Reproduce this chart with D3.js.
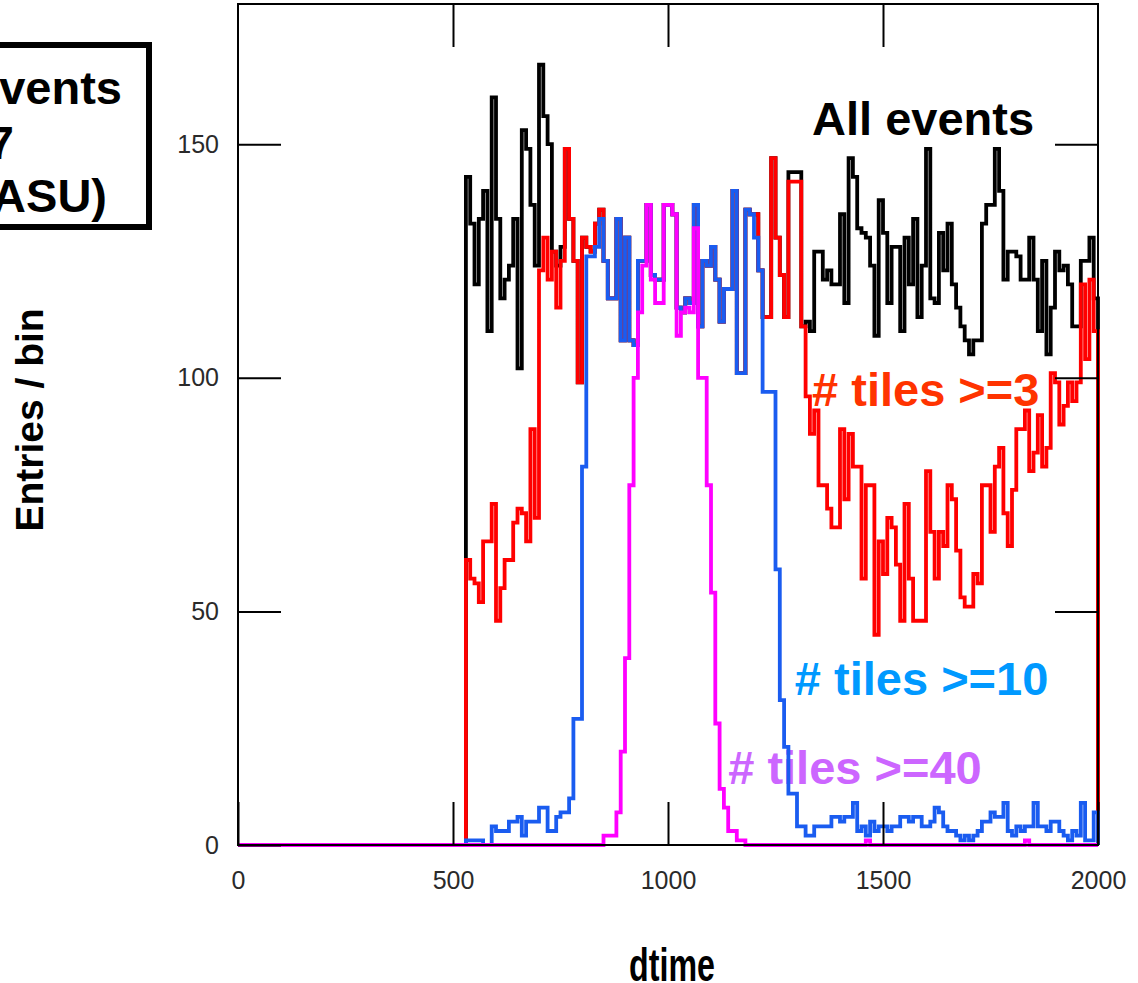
<!DOCTYPE html>
<html>
<head>
<meta charset="utf-8">
<script src="https://cdn.jsdelivr.net/npm/d3@7"></script>
<style>
  html, body { margin: 0; padding: 0; background: #fff; }
  svg { display: block; }
</style>
</head>
<body>
<svg id="chart" width="1138" height="983"></svg>
<script>
// dtime histograms: 200 bins of width 10 between 0 and 2000
const binLow = 0;
const binWidth = 10;

const allEvents = [
  0,0,0,0,0,0,0,0,0,0,  0,0,0,0,0,0,0,0,0,0,
  0,0,0,0,0,0,0,0,0,0,  0,0,0,0,0,0,0,0,0,0,
  0,0,0,0,0,0,0,0,0,0,
  0,0,0,143,133,120,134,140,110,160,
  134,117,121,124,134,102,153,149,137,124,
  167,156,150,127,124,128,149,134,125,99,
  130,128,127,133,136,125,117,117,134,108,
  130,108,107,125,125,137,122,121,121,137,
  137,135,115,114,117,116,137,111,125,124,
  128,121,112,119,119,140,101,101,136,135,
  135,123,113,113,147,130,122,113,144,144,
  144,111,112,110,127,127,121,123,120,120,
  135,116,147,143,132,131,130,124,109,138,
  131,116,128,128,110,130,120,134,113,124,
  149,117,116,131,123,133,120,115,111,108,
  105,108,108,133,137,137,149,140,121,127,
  127,126,121,121,130,121,110,125,105,115,
  127,123,124,120,111,111,125,125,130,117
];

const tilesGe3 = [
  0,0,0,0,0,0,0,0,0,0,  0,0,0,0,0,0,0,0,0,0,
  0,0,0,0,0,0,0,0,0,0,  0,0,0,0,0,0,0,0,0,0,
  0,0,0,0,0,0,0,0,0,0,
  0,0,0,61,57,56,52,65,65,73,
  48,55,61,61,69,72,71,65,89,70,
  123,130,121,127,115,125,149,134,125,99,
  130,128,127,133,136,125,117,117,134,108,
  130,108,107,125,125,137,122,121,121,137,
  137,135,115,114,117,116,137,111,125,124,
  128,121,112,119,119,140,101,101,136,135,
  135,123,113,113,147,130,122,113,142,142,
  142,111,96,88,93,77,77,72,68,68,
  89,74,88,81,81,57,77,77,45,65,
  58,70,68,60,48,73,57,48,48,48,
  80,67,57,67,64,77,74,63,53,51,
  51,58,56,77,77,67,81,85,71,64,
  76,89,89,93,80,84,92,81,85,101,
  99,90,94,99,95,99,120,104,121,110
];

const tilesGe10 = [
  0,0,0,0,0,0,0,0,0,0,  0,0,0,0,0,0,0,0,0,0,
  0,0,0,0,0,0,0,0,0,0,  0,0,0,0,0,0,0,0,0,0,
  0,0,0,0,0,0,0,0,0,0,
  0,0,0,1,1,1,1,0,0,4,
  3,3,3,5,5,6,2,5,5,5,
  8,8,3,3,6,7,7,10,27,27,
  81,126,126,128,134,125,117,117,134,108,
  130,108,107,125,125,137,122,121,121,137,
  137,135,115,114,117,116,137,111,125,124,
  128,121,112,119,119,140,101,101,136,135,
  130,123,97,97,97,59,31,21,11,11,
  4,4,2,2,4,4,4,4,6,6,
  5,6,6,9,3,4,2,5,3,4,
  4,3,4,4,6,6,5,6,6,4,
  4,5,8,7,4,3,3,2,1,2,
  1,2,3,5,5,7,6,6,9,3,
  2,4,3,4,4,9,4,4,3,5,
  5,3,2,1,3,2,9,1,1,7
];

const tilesGe40 = [
  0,0,0,0,0,0,0,0,0,0,  0,0,0,0,0,0,0,0,0,0,
  0,0,0,0,0,0,0,0,0,0,  0,0,0,0,0,0,0,0,0,0,
  0,0,0,0,0,0,0,0,0,0,  0,0,0,0,0,0,0,0,0,0,
  0,0,0,0,0,0,0,0,0,0,  0,0,0,0,0,0,0,0,0,0,
  0,0,0,0,0,2,2,2,7,20,
  40,77,100,114,124,137,121,116,116,137,
  137,135,109,114,115,114,132,100,100,77,
  54,26,12,8,3,3,1,1,0,0,
  0,0,0,0,0,0,0,0,0,0,  0,0,0,0,0,0,0,0,0,0,
  0,0,0,0,0,0,1,0,0,0,
  0,0,0,0,0,0,0,0,0,0,  0,0,0,0,0,0,0,0,0,0,
  0,0,0,0,0,0,0,0,0,0,
  0,0,0,1,0,0,0,0,0,0,
  0,0,0,0,0,0,0,0,0,0
];

const xTickValues = [0, 500, 1000, 1500, 2000];
const yTickValues = [0, 50, 100, 150];
const xDomain = [0, 2000];
const yDomain = [0, 180];

const xTitle = "dtime";
const yTitle = "Entries / bin";
const infoLines = ["events", "7", "(ASU)"];

const series = [
  { label: "All events",    values: allEvents,  line: "#000000", text: "#000000" },
  { label: "# tiles >=3",   values: tilesGe3,   line: "#ff0000", text: "#ff3300" },
  { label: "# tiles >=10",  values: tilesGe10,  line: "#1a5cf0", text: "#0099ff" },
  { label: "# tiles >=40",  values: tilesGe40,  line: "#ff00ff", text: "#cc66ff" }
];
// label anchor points in data coordinates (x = dtime, y = entries)
const labelSpots = [
  { x: 1335, y: 152 },
  { x: 1335, y: 94 },
  { x: 1295, y: 32 },
  { x: 1140, y: 13 }
];

const svg = d3.select("#chart");
const frame = { left: 238, right: 1098, top: 4, bottom: 845 };

const x = d3.scaleLinear().domain(xDomain).range([frame.left, frame.right]);
const y = d3.scaleLinear().domain(yDomain).range([frame.bottom, frame.top]);

const fontFamily = "'Liberation Sans', Arial, Helvetica, sans-serif";

// info box, partly outside the page on the left
const box = svg.append("g");
box.append("rect")
  .attr("x", -12).attr("y", 45)
  .attr("width", 161).attr("height", 182)
  .attr("fill", "#fff").attr("stroke", "#000").attr("stroke-width", 6);
const infoAnchors = [{ x: 122, y: 104 }, { x: 14, y: 159 }, { x: 107, y: 212 }];
box.selectAll("text").data(infoLines).join("text")
  .attr("x", (d, i) => infoAnchors[i].x)
  .attr("y", (d, i) => infoAnchors[i].y)
  .attr("text-anchor", "end")
  .attr("font-family", fontFamily)
  .attr("font-weight", "bold")
  .attr("font-size", 47)
  .attr("fill", "#000")
  .text(d => d);

// legend-style labels placed inside the frame
svg.append("g").selectAll("text").data(series).join("text")
  .attr("x", (d, i) => x(labelSpots[i].x))
  .attr("y", (d, i) => y(labelSpots[i].y))
  .attr("font-family", fontFamily)
  .attr("font-weight", "bold")
  .attr("font-size", 47)
  .attr("fill", d => d.text)
  .text(d => d.label);

// step outline of one histogram, closing to zero at both ends
function stepPath(values) {
  const pts = values.map((v, i) => [x(binLow + i * binWidth), y(v)]);
  const hi = binLow + values.length * binWidth;
  pts.unshift([x(binLow), y(0)]);
  pts.push([x(hi), y(values[values.length - 1])]);
  pts.push([x(hi), y(0)]);
  return d3.line().curve(d3.curveStepAfter)(pts);
}

svg.append("g").selectAll("path").data(series).join("path")
  .attr("d", d => stepPath(d.values))
  .attr("fill", "none")
  .attr("stroke", d => d.line)
  .attr("stroke-width", 3.8)
  .attr("stroke-linejoin", "miter");

// frame
svg.append("rect")
  .attr("x", frame.left).attr("y", frame.top)
  .attr("width", frame.right - frame.left)
  .attr("height", frame.bottom - frame.top)
  .attr("fill", "none").attr("stroke", "#000").attr("stroke-width", 2);

const tickLen = 43;
function styleAxis(g) {
  g.select(".domain").remove();
  g.selectAll(".tick line").attr("stroke", "#000").attr("stroke-width", 2);
  g.selectAll(".tick text")
    .attr("font-family", fontFamily)
    .attr("font-size", 25)
    .attr("fill", "#2a2a2a");
}

svg.append("g")
  .attr("transform", `translate(0,${frame.bottom})`)
  .call(d3.axisBottom(x).tickValues(xTickValues).tickSizeInner(-tickLen).tickSizeOuter(0).tickPadding(26).tickFormat(d3.format("d")))
  .call(styleAxis);

svg.append("g")
  .attr("transform", `translate(0,${frame.top})`)
  .call(d3.axisTop(x).tickValues(xTickValues.slice(1, -1)).tickSizeInner(-tickLen).tickSizeOuter(0).tickFormat(""))
  .call(styleAxis);

svg.append("g")
  .attr("transform", `translate(${frame.left},0)`)
  .call(d3.axisLeft(y).tickValues(yTickValues).tickSizeInner(-tickLen).tickSizeOuter(0).tickPadding(19).tickFormat(d3.format("d")))
  .call(styleAxis);

svg.append("g")
  .attr("transform", `translate(${frame.right},0)`)
  .call(d3.axisRight(y).tickValues(yTickValues.slice(1)).tickSizeInner(-tickLen).tickSizeOuter(0).tickFormat(""))
  .call(styleAxis);

// axis titles
svg.append("text")
  .attr("transform", `translate(${(frame.left + frame.right) / 2 + 4},981) scale(0.7,1)`)
  .attr("text-anchor", "middle")
  .attr("font-family", fontFamily)
  .attr("font-weight", "bold")
  .attr("font-size", 46)
  .attr("fill", "#000")
  .text(xTitle);

svg.append("text")
  .attr("transform", `translate(43,420) rotate(-90)`)
  .attr("text-anchor", "middle")
  .attr("font-family", fontFamily)
  .attr("font-weight", "bold")
  .attr("font-size", 39)
  .attr("fill", "#000")
  .text(yTitle);
</script>
</body>
</html>
